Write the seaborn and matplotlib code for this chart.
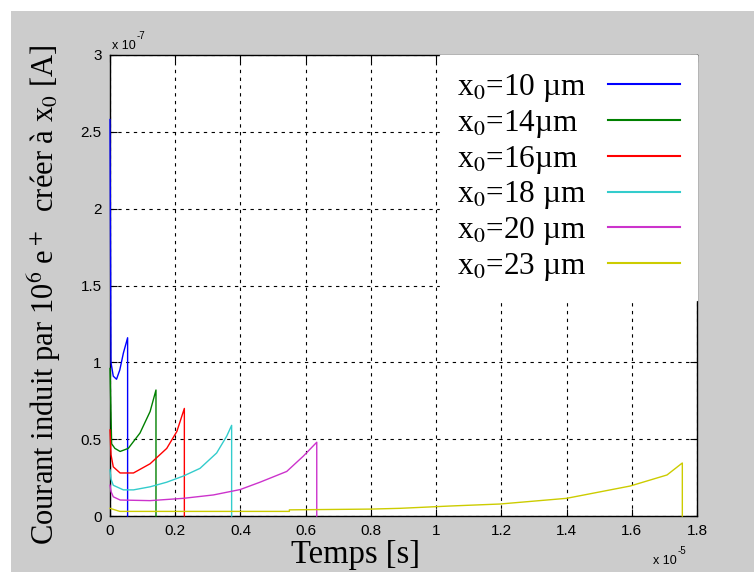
import pandas as pd
import matplotlib.pyplot as plt
import seaborn as sns
from matplotlib.patches import Rectangle

# values in units of 1e-5 s (time) and 1e-7 A (current)
labels = ["x$_0$=10 µm", "x$_0$=14µm", "x$_0$=16µm", "x$_0$=18 µm", "x$_0$=20 µm", "x$_0$=23 µm"]
colors = ["#0000ff", "#008000", "#ff0000", "#33cccc", "#cc33cc", "#cccc00"]

t_10 = [0, 0.003, 0.01, 0.02, 0.03, 0.041, 0.054, 0.054]
i_10 = [2.58, 1.0, 0.91, 0.89, 0.95, 1.06, 1.16, 0]

t_14 = [0, 0.005, 0.015, 0.031, 0.056, 0.092, 0.123, 0.141, 0.141]
i_14 = [0.96, 0.47, 0.44, 0.42, 0.44, 0.54, 0.68, 0.82, 0]

t_16 = [0, 0.003, 0.01, 0.031, 0.072, 0.123, 0.174, 0.205, 0.228, 0.228]
i_16 = [0.56, 0.40, 0.32, 0.28, 0.28, 0.34, 0.44, 0.55, 0.70, 0]

t_18 = [0, 0.003, 0.01, 0.041, 0.072, 0.123, 0.174, 0.225, 0.276, 0.327, 0.358, 0.373, 0.373]
i_18 = [0.30, 0.24, 0.20, 0.17, 0.17, 0.19, 0.22, 0.26, 0.31, 0.41, 0.52, 0.59, 0]

t_20 = [0, 0.003, 0.01, 0.031, 0.123, 0.225, 0.317, 0.399, 0.46, 0.542, 0.593, 0.634, 0.634]
i_20 = [0.20, 0.16, 0.125, 0.104, 0.10, 0.115, 0.137, 0.172, 0.22, 0.29, 0.39, 0.48, 0]

t_23 = [0, 0.03, 0.55, 0.55, 0.8, 0.89, 1.043, 1.196, 1.40, 1.595, 1.708, 1.755, 1.755]
i_23 = [0.05, 0.03, 0.03, 0.04, 0.045, 0.05, 0.065, 0.078, 0.115, 0.195, 0.267, 0.345, 0]

x_ticks = [0, 0.2, 0.4, 0.6, 0.8, 1, 1.2, 1.4, 1.6, 1.8]
y_ticks = [0, 0.5, 1, 1.5, 2, 2.5, 3]
x_ticklabels = ["0", "0.2", "0.4", "0.6", "0.8", "1", "1.2", "1.4", "1.6", "1.8"]
y_ticklabels = ["0", "0.5", "1", "1.5", "2", "2.5", "3"]

frames = []
for lab, t, i in zip(labels, [t_10, t_14, t_16, t_18, t_20, t_23],
                     [i_10, i_14, i_16, i_18, i_20, i_23]):
    frames.append(pd.DataFrame({"t": t, "i": i, "serie": lab}))
df = pd.concat(frames, ignore_index=True)

plt.rcParams["mathtext.fontset"] = "stix"

fig = plt.figure(figsize=(7.54, 5.72), dpi=100, facecolor="white")
fig.patches.append(Rectangle((11 / 754, 0), 1, 1 - 11 / 572, transform=fig.transFigure,
                             facecolor="#cccccc", edgecolor="none", zorder=-10))
ax = fig.add_axes([110 / 754, 1 - 516 / 572, 587 / 754, 461 / 572])
ax.set_facecolor("white")

sns.lineplot(data=df, x="t", y="i", hue="serie", palette=colors, hue_order=labels,
             estimator=None, sort=False, units="serie", linewidth=1.0, ax=ax,
             zorder=3, clip_on=False)

ax.set_xlim(0, 1.8)
ax.set_ylim(0, 3)
ax.set_xticks(x_ticks)
ax.set_xticklabels(x_ticklabels)
ax.set_yticks(y_ticks)
ax.set_yticklabels(y_ticklabels)
ax.tick_params(direction="in", top=True, right=True, length=5, width=0.8,
               labelsize=11, colors="black", pad=6)
for lab in ax.get_xticklabels() + ax.get_yticklabels():
    lab.set_fontfamily("Liberation Sans")
for s in ax.spines.values():
    s.set_color("black")
    s.set_linewidth(1.0)
ax.grid(True, color="black", linestyle=(0, (3, 4)), linewidth=0.8)

ax.set_xlabel("Temps [s]", fontfamily="Liberation Serif", fontsize=23.5)
ax.xaxis.set_label_coords(0.419, -0.052)
ax.set_ylabel("Courant induit par 10$^6$ e$^+$  créer à x$_0$ [A]",
              fontfamily="Liberation Serif", fontsize=22)
ax.yaxis.set_label_coords(-0.08, 0.48)

ax.text(0.003, 1.006, "x 10", transform=ax.transAxes, fontfamily="Liberation Sans",
        fontsize=9, va="bottom")
ax.text(0.045, 1.03, "-7", transform=ax.transAxes, fontfamily="Liberation Sans",
        fontsize=7, va="bottom")
ax.text(0.925, -0.11, "x 10", transform=ax.transAxes, fontfamily="Liberation Sans",
        fontsize=9, va="bottom")
ax.text(0.967, -0.087, "-5", transform=ax.transAxes, fontfamily="Liberation Sans",
        fontsize=7, va="bottom")

leg = ax.legend(loc="upper right", markerfirst=False, frameon=True, fancybox=False,
                handlelength=2.3, handletextpad=0.7, labelspacing=0.12,
                borderpad=0.55, borderaxespad=0,
                prop={"family": "Liberation Serif", "size": 22.5})
leg.get_frame().set_facecolor("white")
leg.get_frame().set_edgecolor("white")
leg.get_frame().set_alpha(1)
for line in leg.get_lines():
    line.set_linewidth(1.5)

# left-align legend texts while keeping the line samples in one column
fig.canvas.draw()
renderer = fig.canvas.get_renderer()
for col in leg._legend_handle_box.get_children():
    col.align = "left"
    rows = col.get_children()
    widths = [r.get_children()[0].get_bbox(renderer).width for r in rows]
    wmax = max(widths)
    for r, w in zip(rows, widths):
        r.sep = r.sep + (wmax - w) * 72 / fig.dpi

plt.savefig("out.png", dpi=100)
